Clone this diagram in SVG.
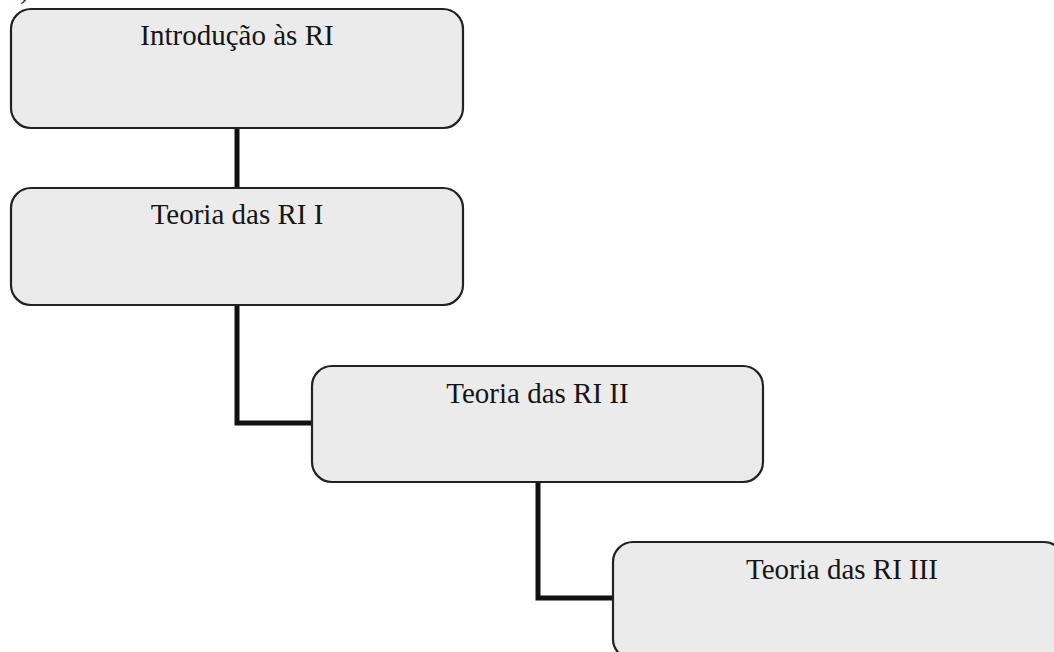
<svg xmlns="http://www.w3.org/2000/svg" width="1054" height="652" viewBox="0 0 1054 652">
<style>
.box{fill:#ebebeb;stroke:#222;stroke-width:2.2}
.lbl{font-family:"Liberation Serif","Times New Roman",serif;font-size:29px;fill:#151515;text-anchor:middle}
.conn{fill:none;stroke:#111;stroke-width:5;stroke-linejoin:miter}
</style>
<rect width="1054" height="652" fill="#ffffff"/>
<text x="20" y="-2" font-family="Liberation Serif, serif" font-size="29" fill="#333">)</text>
<g id="connectors">
<path class="conn" d="M237 128 V188"/>
<path class="conn" d="M237 305 V423 H312"/>
<path class="conn" d="M538 482 V598 H613"/>
</g>
<g id="node1">
<rect class="box" x="11" y="9" width="452" height="119" rx="20" ry="20"/>
<text class="lbl" x="237" y="45">Introdução às RI</text>
</g>
<g id="node2">
<rect class="box" x="11" y="188" width="452" height="117" rx="20" ry="20"/>
<text class="lbl" x="237" y="224">Teoria das RI I</text>
</g>
<g id="node3">
<rect class="box" x="312" y="366" width="451" height="116" rx="20" ry="20"/>
<text class="lbl" x="537.5" y="403">Teoria das RI II</text>
</g>
<g id="node4">
<rect class="box" x="613" y="542" width="451" height="117" rx="20" ry="20"/>
<text class="lbl" x="842" y="579">Teoria das RI III</text>
</g>
</svg>
